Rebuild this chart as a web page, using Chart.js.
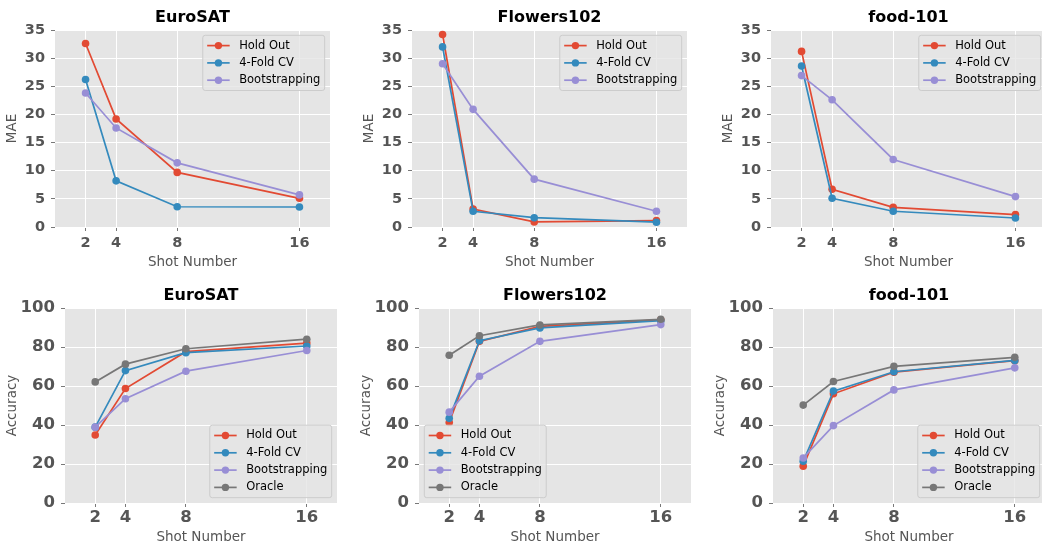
<html lang="en">
<head>
<meta charset="UTF-8">
<title>Shot number vs MAE / Accuracy</title>
<script src="https://cdnjs.cloudflare.com/ajax/libs/Chart.js/4.4.1/chart.umd.min.js"></script>
<style>
  html, body { margin: 0; padding: 0; overflow: hidden; background: #fff; width: 1042px; height: 544px; }
  canvas { position: absolute; }
</style>
</head>
<body>
<canvas id="c0"></canvas>
<canvas id="c1"></canvas>
<canvas id="c2"></canvas>
<canvas id="c3"></canvas>
<canvas id="c4"></canvas>
<canvas id="c5"></canvas>
<script>
// data
const shots = [2, 4, 8, 16];
const seriesNames = ["Hold Out", "4-Fold CV", "Bootstrapping", "Oracle"];

const euroMaeHold = [32.6, 19.2, 9.7, 5.1];
const euroMaeCv   = [26.2, 8.2, 3.6, 3.55];
const euroMaeBoot = [23.8, 17.6, 11.4, 5.7];

const flowersMaeHold = [34.2, 3.2, 0.9, 1.15];
const flowersMaeCv   = [32.0, 2.8, 1.65, 0.85];
const flowersMaeBoot = [29.0, 20.9, 8.5, 2.8];

const foodMaeHold = [31.2, 6.7, 3.5, 2.2];
const foodMaeCv   = [28.6, 5.1, 2.8, 1.6];
const foodMaeBoot = [26.9, 22.6, 12.0, 5.4];

const euroAccHold   = [34.9, 58.7, 77.6, 82.0];
const euroAccCv     = [38.9, 67.9, 77.1, 80.5];
const euroAccBoot   = [38.9, 53.5, 67.6, 78.2];
const euroAccOracle = [62.1, 71.2, 79.1, 84.0];

const flowersAccHold   = [41.3, 82.9, 90.6, 93.9];
const flowersAccCv     = [43.4, 83.2, 89.8, 93.5];
const flowersAccBoot   = [46.6, 65.0, 82.9, 91.5];
const flowersAccOracle = [75.8, 85.8, 91.3, 94.2];

const foodAccHold   = [18.9, 56.0, 67.1, 73.0];
const foodAccCv     = [21.4, 57.4, 67.3, 73.1];
const foodAccBoot   = [23.1, 39.7, 58.0, 69.3];
const foodAccOracle = [50.2, 62.3, 70.1, 74.7];

const colors = ["#E24A33", "#348ABD", "#988ED5", "#777777"];

Chart.defaults.font.family = "'DejaVu Sans', sans-serif";

const bgPlugin = {
  id: "panelBg",
  beforeDraw(chart) {
    const a = chart.chartArea, ctx = chart.ctx;
    ctx.save();
    ctx.fillStyle = "#E5E5E5";
    ctx.fillRect(a.left, a.top, a.right - a.left, a.bottom - a.top);
    ctx.restore();
  }
};

const titlePlugin = {
  id: "panelTitle",
  afterDraw(chart, args, opts) {
    const a = chart.chartArea, ctx = chart.ctx;
    ctx.save();
    ctx.font = "bold 16px 'DejaVu Sans'";
    ctx.fillStyle = "#000";
    ctx.textAlign = "center";
    ctx.textBaseline = "middle";
    ctx.fillText(opts.text, (a.left + a.right) / 2, a.top - opts.gap);
    ctx.restore();
  }
};

const legendPlugin = {
  id: "boxLegend",
  afterDraw(chart, args, opts) {
    const a = chart.chartArea, ctx = chart.ctx;
    const fs = 11.5, pad = 4.4, hl = 22.5, htp = 9.5, ls = 5.5, axp = 5.3, rowH = 11.8;
    const items = chart.data.datasets;
    ctx.save();
    ctx.font = fs + "px 'DejaVu Sans'";
    const tw = Math.max(...items.map(d => ctx.measureText(d.label).width));
    const w = pad * 2 + hl + htp + tw;
    const h = pad * 2 + items.length * rowH + (items.length - 1) * ls;
    const x = opts.corner[1] === "r" ? a.right - axp - w : a.left + axp;
    const y = opts.corner[0] === "t" ? a.top + axp : a.bottom - axp - h;
    ctx.beginPath();
    ctx.roundRect(x, y, w, h, 2.5);
    ctx.fillStyle = "rgba(229,229,229,0.8)";
    ctx.fill();
    ctx.strokeStyle = "#CCCCCC";
    ctx.lineWidth = 1;
    ctx.stroke();
    items.forEach((d, i) => {
      const cy = y + pad + rowH / 2 + i * (rowH + ls);
      ctx.strokeStyle = d.borderColor;
      ctx.lineWidth = 1.7;
      ctx.beginPath();
      ctx.moveTo(x + pad, cy);
      ctx.lineTo(x + pad + hl, cy);
      ctx.stroke();
      ctx.fillStyle = d.borderColor;
      ctx.beginPath();
      ctx.arc(x + pad + hl / 2, cy, 3.7, 0, Math.PI * 2);
      ctx.fill();
      ctx.fillStyle = "#000";
      ctx.textAlign = "left";
      ctx.textBaseline = "middle";
      ctx.fillText(d.label, x + pad + hl + htp, cy);
    });
    ctx.restore();
  }
};

function makePanel(id, p) {
  const yw = p.yw, top = 30, xh = 45, right = 5;
  const cv = document.getElementById(id);
  cv.width = p.w + yw + right;
  cv.height = p.h + top + xh;
  cv.style.left = (p.l - yw) + "px";
  cv.style.top = (p.t - top) + "px";
  const n = p.series.length;
  const datasets = p.series.map((vals, i) => ({
    label: seriesNames[i],
    data: shots.map((s, k) => ({ x: s, y: vals[k] })),
    borderColor: colors[i],
    backgroundColor: colors[i],
    pointBackgroundColor: colors[i],
    borderWidth: 1.7,
    pointRadius: 3.8,
    pointBorderWidth: 0,
    pointHoverRadius: 3.8,
    order: n - i,
    clip: false
  }));
  new Chart(cv, {
    type: "line",
    data: { datasets },
    plugins: [bgPlugin, titlePlugin, legendPlugin],
    options: {
      responsive: false,
      animation: false,
      devicePixelRatio: 1,
      layout: { padding: { left: 0, top: top, right: right, bottom: 0 } },
      plugins: {
        legend: { display: false },
        tooltip: { enabled: false },
        panelTitle: { text: p.title, gap: 12.5 },
        boxLegend: { corner: p.corner }
      },
      scales: {
        x: {
          type: "linear",
          min: 0, max: 18,
          afterBuildTicks(scale) { scale.ticks = shots.map(v => ({ value: v })); },
          afterFit(scale) { scale.height = xh; },
          ticks: { autoSkip: false, maxRotation: 0, color: "#555555", padding: p.xpad,
                   font: { size: p.tickSize, weight: "bold" }, callback: v => v },
          grid: { color: "#FFFFFF", lineWidth: 1, tickColor: "#555555", tickLength: 4, tickWidth: 0.8 },
          border: { display: false },
          title: { display: true, text: "Shot Number", color: "#555555",
                   font: { size: 13.5 }, padding: { top: 0, bottom: p.xtPad } }
        },
        y: {
          min: 0, max: p.ymax,
          afterFit(scale) { scale.width = yw; },
          ticks: { stepSize: p.step, color: "#555555", padding: 6,
                   font: { size: p.tickSize, weight: "bold" } },
          grid: { color: "#FFFFFF", lineWidth: 1, tickColor: "#555555", tickLength: 4, tickWidth: 0.8 },
          border: { display: false },
          title: { display: true, text: p.ytitle, color: "#555555",
                   font: { size: 13.5 }, padding: { top: p.ytPad, bottom: 0 } }
        }
      }
    }
  });
}

const topRow = { t: 30, h: 197, w: 275, yw: 60, ymax: 35, step: 5, ytitle: "MAE",
                 tickSize: 14.5, xpad: 3.3, xtPad: 1.9, ytPad: 8.9, corner: "tr" };
const botRow = { t: 308, h: 195, w: 272, yw: 66, ymax: 100, step: 20, ytitle: "Accuracy",
                 tickSize: 16.5, xpad: 1, xtPad: 2.9, ytPad: 4.9 };

makePanel("c0", Object.assign({}, topRow, { l: 55, title: "EuroSAT",
  series: [euroMaeHold, euroMaeCv, euroMaeBoot] }));
makePanel("c1", Object.assign({}, topRow, { l: 412, title: "Flowers102",
  series: [flowersMaeHold, flowersMaeCv, flowersMaeBoot] }));
makePanel("c2", Object.assign({}, topRow, { l: 771, title: "food-101",
  series: [foodMaeHold, foodMaeCv, foodMaeBoot] }));
makePanel("c3", Object.assign({}, botRow, { l: 65, title: "EuroSAT", corner: "br",
  series: [euroAccHold, euroAccCv, euroAccBoot, euroAccOracle] }));
makePanel("c4", Object.assign({}, botRow, { l: 419, title: "Flowers102", corner: "bl",
  series: [flowersAccHold, flowersAccCv, flowersAccBoot, flowersAccOracle] }));
makePanel("c5", Object.assign({}, botRow, { l: 773, title: "food-101", corner: "br",
  series: [foodAccHold, foodAccCv, foodAccBoot, foodAccOracle] }));
</script>
</body>
</html>
